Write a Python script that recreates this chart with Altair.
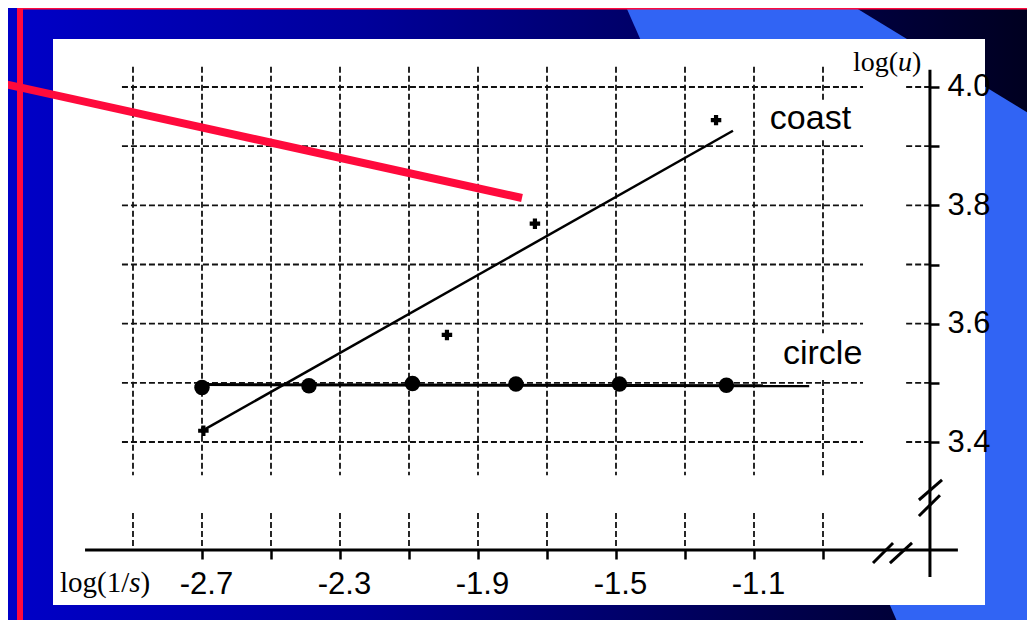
import altair as alt
import pandas as pd

# ---------------- data ----------------
circle_x = [-2.70, -2.39, -2.09, -1.79, -1.49, -1.18]
circle_y = [3.492, 3.495, 3.499, 3.498, 3.498, 3.496]
coast_x = [-2.696, -1.990, -1.735, -1.210]
coast_y = [3.419, 3.581, 3.769, 3.944]
circle_fit_x = [-2.70, -0.94]
circle_fit_y = [3.497, 3.495]
coast_fit_x = [-2.696, -1.161]
coast_fit_y = [3.420, 3.926]
series_names = ["coast", "circle"]

x_ticks = [-2.7, -2.5, -2.3, -2.1, -1.9, -1.7, -1.5, -1.3, -1.1, -0.9]
x_label_values = [-2.7, -2.3, -1.9, -1.5, -1.1]
x_tick_labels = ["-2.7", "-2.3", "-1.9", "-1.5", "-1.1"]
y_ticks = [3.4, 3.5, 3.6, 3.7, 3.8, 3.9, 4.0]
y_label_values = [3.4, 3.6, 3.8, 4.0]
y_tick_labels = ["3.4", "3.6", "3.8", "4.0"]
x_grid = [-2.9, -2.7, -2.5, -2.3, -2.1, -1.9, -1.7, -1.5, -1.3, -1.1, -0.9]
y_grid = [3.4, 3.5, 3.6, 3.7, 3.8, 3.9, 4.0]
x_title = ["log(1/", "s", ")"]
y_title = ["log(", "u", ")"]

# ---------------- layout ----------------
W, H = 1019, 612
X_DOMAIN = [-3.2623, -0.3087]
Y_DOMAIN = [3.0992, 4.1335]
RED = "#FF0A3C"
AX_Y = 3.2175      # horizontal axis line position (data units)
AX_X = -0.590      # vertical axis line position (data units)

xs = alt.Scale(domain=X_DOMAIN, nice=False, zero=False)
ys = alt.Scale(domain=Y_DOMAIN, nice=False, zero=False)


def label_expr(vals, labels):
    keys = "[" + ",".join(str(int(round(v * 10))) for v in vals) + "]"
    labs = "[" + ",".join("'" + s + "'" for s in labels) + "]"
    idx = "indexof(" + keys + ", round(datum.value*10))"
    return idx + " >= 0 ? " + labs + "[" + idx + "] : ''"


ax_x = alt.Axis(values=x_ticks, labelExpr=label_expr(x_label_values, x_tick_labels),
                orient="bottom", offset=-70, domain=False, grid=False, zindex=2,
                tickSize=9, tickWidth=2.5, tickColor="black",
                labelFont="Liberation Sans", labelFontSize=31, labelColor="black",
                labelPadding=10, labelOffset=4, labelOverlap=False, labelFlush=False,
                title=None)
ax_y = alt.Axis(values=y_ticks, labelExpr=label_expr(y_label_values, y_tick_labels),
                orient="right", offset=-97, domain=False, grid=False, zindex=2,
                tickSize=9, tickWidth=2.5, tickColor="black",
                labelFont="Liberation Sans", labelFontSize=31, labelColor="black",
                labelPadding=8, labelAlign="left", labelBaseline="middle",
                labelOverlap=False, labelFlush=False, title=None)


def X(f):
    return alt.X(f, type="quantitative", scale=xs, axis=ax_x)


def Y(f):
    return alt.Y(f, type="quantitative", scale=ys, axis=ax_y)


one = pd.DataFrame({"k": [0]})

# ---------------- slide decoration ----------------
bg = alt.Chart(one).mark_rect(
    color=alt.LinearGradient(
        gradient="linear", x1=0, x2=1, y1=0, y2=0,
        stops=[alt.GradientStop(color="#0000C8", offset=0),
               alt.GradientStop(color="#00009A", offset=0.35),
               alt.GradientStop(color="#000020", offset=1)])
).encode(x=alt.value(0), x2=alt.value(W), y=alt.value(0), y2=alt.value(H))

BAND = "M 615 -8 L 835 -8 L 1027 109 L 1027 620 L 892 620 Z"
band = alt.Chart(one).mark_point(
    shape=BAND, filled=True, size=4, opacity=1, color="#3164F4", strokeWidth=0
).encode(x=alt.value(0), y=alt.value(0))

panel = alt.Chart(one).mark_rect(color="white").encode(
    x=alt.value(45), x2=alt.value(977), y=alt.value(31), y2=alt.value(597))

# ---------------- grid ----------------
vseg = []
for gx in x_grid:
    if gx == -0.9:
        segs = [(4.034, 3.975), (3.91, 3.584), (3.505, 3.344), (3.28, AX_Y)]
    else:
        segs = [(4.034, 3.344), (3.28, AX_Y)]
    for a, b in segs:
        vseg.append({"x": gx, "y": a, "y2": b})
vgrid = alt.Chart(pd.DataFrame(vseg)).mark_rule(
    color="#111111", strokeWidth=1.8, strokeDash=[6, 3]
).encode(x=X("x"), y=Y("y"), y2="y2")

hseg = []
for gy in y_grid:
    for a, b in [(-2.932, -0.784), (-0.659, AX_X)]:
        hseg.append({"x": a, "x2": b, "y": gy})
hgrid = alt.Chart(pd.DataFrame(hseg)).mark_rule(
    color="#111111", strokeWidth=1.8, strokeDash=[6, 3]
).encode(x=X("x"), x2="x2", y=Y("y"))

# ---------------- axis lines and breaks ----------------
axes_df = pd.DataFrame([
    {"x": -3.039, "x2": -0.509, "y": AX_Y, "y2": AX_Y},
    {"x": AX_X, "x2": AX_X, "y": 3.172, "y2": 4.029},
])
axis_lines = alt.Chart(axes_df).mark_rule(color="black", strokeWidth=3).encode(
    x=X("x"), x2="x2", y=Y("y"), y2="y2")

breaks_df = pd.DataFrame([
    {"x": -0.755, "y": 3.1955, "x2": -0.697, "y2": 3.2294},
    {"x": -0.706, "y": 3.1955, "x2": -0.642, "y2": 3.2294},
    {"x": -0.622, "y": 3.302, "x2": -0.555, "y2": 3.336},
    {"x": -0.622, "y": 3.275, "x2": -0.561, "y2": 3.310},
])
breaks = alt.Chart(breaks_df).mark_rule(color="black", strokeWidth=3).encode(
    x=X("x"), x2="x2", y=Y("y"), y2="y2")

# ---------------- data marks ----------------
circle_line = alt.Chart(pd.DataFrame({"x": circle_fit_x, "y": circle_fit_y})).mark_line(
    color="black", strokeWidth=3).encode(x=X("x"), y=Y("y"))
coast_line = alt.Chart(pd.DataFrame({"x": coast_fit_x, "y": coast_fit_y})).mark_line(
    color="black", strokeWidth=2.5).encode(x=X("x"), y=Y("y"))
circle_pts = alt.Chart(pd.DataFrame({"x": circle_x, "y": circle_y})).mark_circle(
    size=240, color="black", opacity=1).encode(x=X("x"), y=Y("y"))
coast_pts = alt.Chart(pd.DataFrame({"x": coast_x, "y": coast_y})).mark_point(
    shape="cross", filled=True, size=110, color="black", opacity=1).encode(x=X("x"), y=Y("y"))


def series_label(name, xv, yv):
    return alt.Chart(one).mark_text(
        text=name, font="Liberation Sans", fontSize=34, align="left",
        baseline="alphabetic", color="black"
    ).encode(x=alt.XDatum(xv, type="quantitative", scale=xs, axis=ax_x),
             y=alt.YDatum(yv, type="quantitative", scale=ys, axis=ax_y))


lab_coast = series_label(series_names[0], -1.054, 3.929)
lab_circle = series_label(series_names[1], -1.016, 3.532)


def title_part(txt, px, py, size, italic=False):
    return alt.Chart(one).mark_text(
        text=txt, font="Liberation Serif", fontSize=size, align="left",
        baseline="alphabetic", color="black", fontStyle="italic" if italic else "normal"
    ).encode(x=alt.value(px), y=alt.value(py))


ys_t = 28
ty = [title_part(y_title[0], 845, 63, ys_t),
      title_part(y_title[1], 845 + 1.611 * ys_t, 63, ys_t, True),
      title_part(y_title[2], 845 + 1.611 * ys_t + 0.5 * ys_t, 63, ys_t)]
xs_t = 29
tx = [title_part(x_title[0], 52, 584, xs_t),
      title_part(x_title[1], 52 + 2.389 * xs_t, 584, xs_t, True),
      title_part(x_title[2], 52 + 2.389 * xs_t + 0.389 * xs_t, 584, xs_t)]

# ---------------- red frame lines ----------------
red_top = alt.Chart(one).mark_rule(color=RED, strokeWidth=5.5).encode(
    x=alt.value(9), x2=alt.value(W), y=alt.value(-1.3), y2=alt.value(-1.3))
red_left = alt.Chart(one).mark_rule(color=RED, strokeWidth=6).encode(
    x=alt.value(12), x2=alt.value(12), y=alt.value(-4), y2=alt.value(H))
red_diag = alt.Chart(one).mark_rule(color=RED, strokeWidth=8, strokeCap="butt").encode(
    x=alt.value(-8), y=alt.value(75), x2=alt.value(514), y2=alt.value(190))

chart = alt.layer(
    bg, band, panel, vgrid, hgrid, axis_lines, breaks,
    circle_line, coast_line, circle_pts, coast_pts,
    lab_coast, lab_circle, *ty, *tx,
    red_top, red_left, red_diag,
).properties(
    width=W, height=H, padding=0,
    autosize=alt.AutoSizeParams(type="none"),
    background="#000080",
).configure_view(strokeWidth=0)

chart.save("out.html", embed_options={"renderer": "svg", "actions": False})
